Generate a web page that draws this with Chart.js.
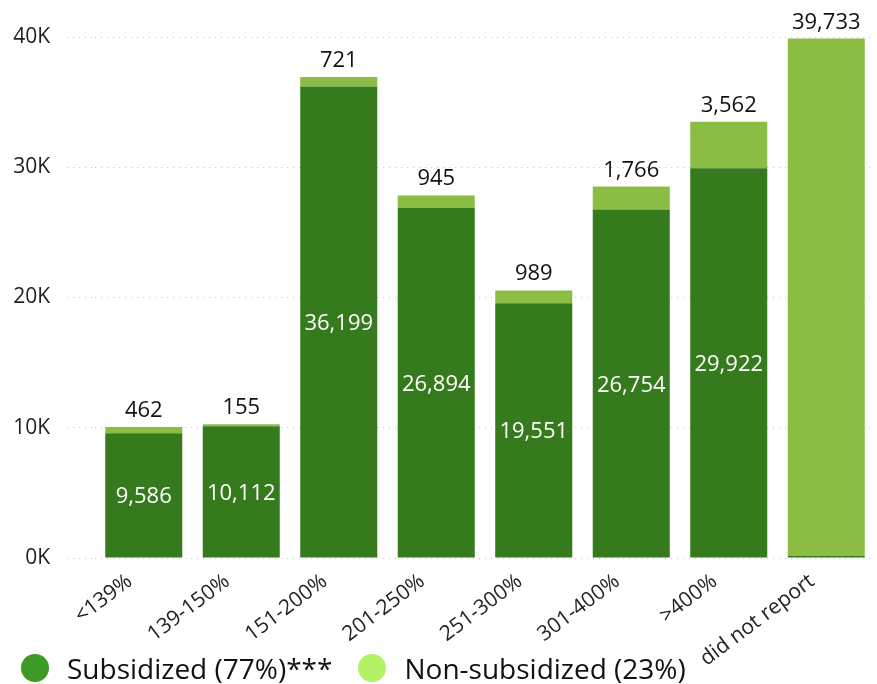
<!DOCTYPE html>
<html>
<head>
<meta charset="utf-8">
<script src="https://cdn.jsdelivr.net/npm/chart.js@4/dist/chart.umd.min.js"></script>
<style>
  html, body { margin: 0; padding: 0; background: #fff; }
  #wrap { position: relative; width: 877px; height: 684px; }
  #legend { position: absolute; left: 21px; top: 651px; display: flex; align-items: center;
            font: 28px 'Open Sans', 'Noto Sans', sans-serif; color: #111; line-height: 34px; }
  #legend span.item { display: flex; align-items: center; margin-right: 26px; }
  #legend i { display: inline-block; width: 28px; height: 28px; border-radius: 50%; margin-right: 18px; }
</style>
</head>
<body>
<div id="wrap">
  <canvas id="incomeChart" width="877" height="684"></canvas>
  <div id="legend"></div>
</div>
<script>
const categories = ["<139%", "139-150%", "151-200%", "201-250%", "251-300%", "301-400%", ">400%", "did not report"];
const subsidized = [9586, 10112, 36199, 26894, 19551, 26754, 29922, 150];
const nonSubsidized = [462, 155, 721, 945, 989, 1766, 3562, 39733];
const yTicks = [0, 10000, 20000, 30000, 40000];
const legendLabels = ["Subsidized (77%)***", "Non-subsidized (23%)"];

const FONT = "'Open Sans', 'Noto Sans', sans-serif";
const barColors = ["#367a1e", "#8bbd45"];
const legendColors = ["#3d9a24", "#b2f264"];

// legend sits over the bottom of the canvas, under the slanted labels
document.getElementById("legend").innerHTML = legendLabels
  .map((t, i) => `<span class="item"><i style="background:${legendColors[i]}"></i>${t}</span>`)
  .join("");

// numbers on the bars: white inside the subsidized part, black above the stack
const barLabels = {
  id: "barLabels",
  afterDatasetsDraw(chart) {
    const { ctx } = chart;
    ctx.save();
    ctx.font = `22px ${FONT}`;
    ctx.textAlign = "center";
    ctx.textBaseline = "alphabetic";
    chart.getDatasetMeta(0).data.forEach((bar, i) => {
      if (subsidized[i] < 1000) return;
      ctx.fillStyle = "#fff";
      ctx.fillText(subsidized[i].toLocaleString("en-US"), bar.x, (bar.y + bar.base) / 2 + 8);
    });
    chart.getDatasetMeta(1).data.forEach((bar, i) => {
      ctx.fillStyle = "#111";
      ctx.fillText(nonSubsidized[i].toLocaleString("en-US"), bar.x, bar.y - 10);
    });
    ctx.restore();
  },
};

new Chart(document.getElementById("incomeChart"), {
  type: "bar",
  data: {
    labels: categories,
    datasets: [
      { label: legendLabels[0], data: subsidized, backgroundColor: barColors[0] },
      { label: legendLabels[1], data: nonSubsidized, backgroundColor: barColors[1] },
    ],
  },
  options: {
    responsive: false,
    animation: false,
    layout: { padding: { top: 37, right: 2, left: 0, bottom: 0 } },
    datasets: { bar: { barPercentage: 0.79, categoryPercentage: 1 } },
    scales: {
      x: {
        stacked: true,
        grid: { display: false },
        border: { display: false },
        ticks: {
          minRotation: 37, maxRotation: 37, padding: 3, labelOffset: -14,
          color: "#222", font: { family: FONT, size: 21 },
        },
        afterFit: s => { s.height = 126; },
      },
      y: {
        stacked: true,
        min: 0,
        max: 40000,
        afterBuildTicks: s => { s.ticks = yTicks.map(v => ({ value: v })); },
        afterFit: s => { s.width = 95; },
        ticks: { padding: 17, color: "#222", font: { family: FONT, size: 21 }, callback: v => v / 1000 + "K" },
        grid: { color: "#c4c4c4", tickLength: 28, tickColor: "#c4c4c4", tickBorderDash: [1, 5] },
        border: { display: false, dash: [1, 5] },
      },
    },
    plugins: {
      tooltip: { enabled: false },
      legend: { display: false },
    },
  },
  plugins: [barLabels],
});
</script>
</body>
</html>
